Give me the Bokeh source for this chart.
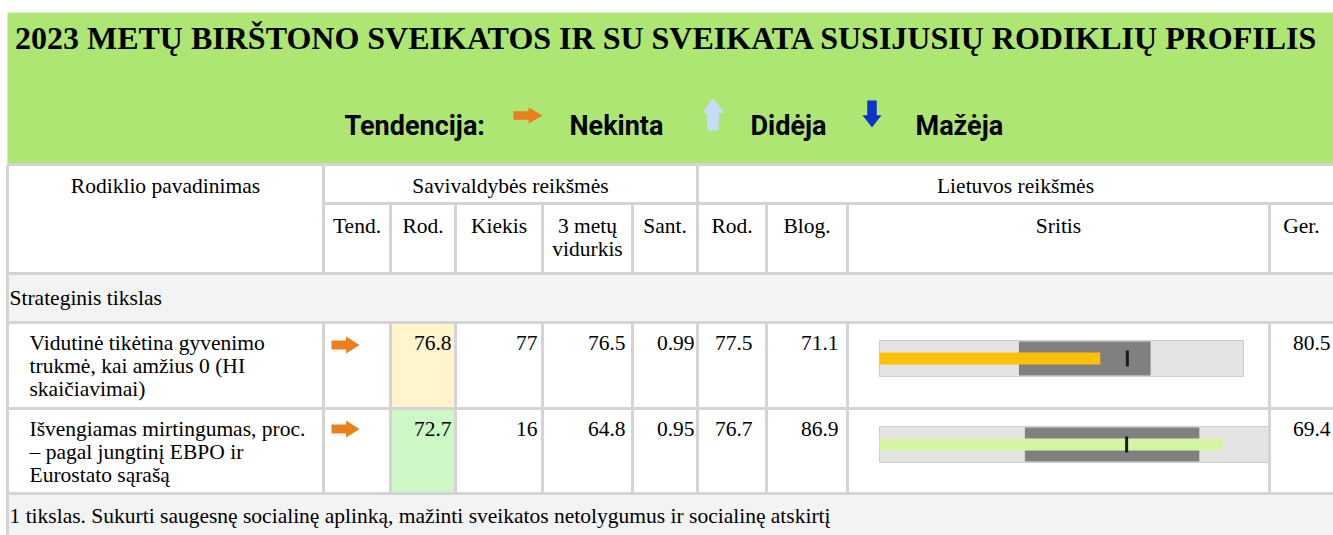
from bokeh.plotting import figure
from bokeh.models import Range1d
from bokeh.core.properties import value
from bokeh.embed import file_html
from bokeh.resources import INLINE

# ---------------- data ----------------
title_text = "2023 METŲ BIRŠTONO SVEIKATOS IR SU SVEIKATA SUSIJUSIŲ RODIKLIŲ PROFILIS"
legend_title = "Tendencija:"
legend_labels = ["Nekinta", "Didėja", "Mažėja"]
group_headers = ["Rodiklio pavadinimas", "Savivaldybės reikšmės", "Lietuvos reikšmės"]
column_headers = ["Tend.", "Rod.", "Kiekis", "3 metų\nvidurkis", "Sant.", "Rod.", "Blog.", "Sritis", "Ger."]
section_labels = ["Strateginis tikslas",
                  "1 tikslas. Sukurti saugesnę socialinę aplinką, mažinti sveikatos netolygumus ir socialinę atskirtį"]
indicator_names = ["Vidutinė tikėtina gyvenimo\ntrukmė, kai amžius 0 (HI\nskaičiavimai)",
                   "Išvengiamas mirtingumas, proc.\n– pagal jungtinį EBPO ir\nEurostato sąrašą"]
trend = ["Nekinta", "Nekinta"]
mun_rate = [76.8, 72.7]
mun_count = [77, 16]
mun_avg3 = [76.5, 64.8]
mun_ratio = [0.99, 0.95]
lt_rate = [77.5, 76.7]
lt_worst = [71.1, 86.9]
lt_best = [80.5, 69.4]
band_low = [74.7, 80.9]
band_high = [78.1, 73.7]

# ---------------- styles / layout ----------------
GREEN = "#ade673"
GRID = "#d4d4d4"
SECTION_BG = "#f3f3f3"
CELL_BG = ["#fff4cc", "#cdf8c5"]
BAR_COLORS = ["#ffc000", "#d6f5a4"]
TREND_COLORS = {"Nekinta": "#ea7f1c", "Didėja": "#c6dcf8", "Mažėja": "#0d35c9"}
SERIF = value("Liberation Serif")
SANS = value("Roboto")

W, H = 1333, 535
OX, OY = 0, 0
cols = [7, 323, 390, 455, 542, 632, 697, 766, 847, 1269, 1333]
GREEN_Y = (12, 164)
HDR1 = (164, 203)
HDR2 = (203, 273)
SEC = (273, 322)
ROWS = [(322, 408), (408, 493)]
FOOT = (493, 535)
value_right = [451, 537, 625, 694, 752, 838, 1330]
bullet_x0 = 879
bullet_span = [364, 424]

p = figure(width=W, height=H, x_range=Range1d(OX, OX + W), y_range=Range1d(OY + H, OY),
           output_backend="svg", toolbar_location=None, min_border=0)
p.axis.visible = False
p.grid.visible = False
p.outline_line_color = None
p.background_fill_color = "white"
p.border_fill_color = "white"

# backgrounds
p.quad(left=[cols[0]], right=[cols[-1]], top=[GREEN_Y[0]], bottom=[GREEN_Y[1]], fill_color=GREEN, line_color=None)
p.quad(left=[cols[0], cols[0]], right=[cols[-1], cols[-1]], top=[SEC[0], FOOT[0]], bottom=[SEC[1], FOOT[1]],
       fill_color=SECTION_BG, line_color=None)
p.quad(left=[cols[2]] * 2, right=[cols[3]] * 2, top=[r[0] for r in ROWS], bottom=[r[1] for r in ROWS],
       fill_color=CELL_BG, line_color=None)

# bullet charts through per-row linear scales
for i, (top, bot) in enumerate(ROWS):
    k = (lt_best[i] - lt_worst[i]) / bullet_span[i]
    name = f"b{i}"
    p.extra_x_ranges[name] = Range1d(start=lt_worst[i] - (bullet_x0 - OX) * k,
                                     end=lt_worst[i] + (OX + W - bullet_x0) * k)
    cy = top + 36
    p.quad(left=[lt_worst[i]], right=[lt_best[i]], top=[cy - 18], bottom=[cy + 18],
           fill_color="#e4e4e4", line_color="#cccccc", line_width=1, x_range_name=name)
    p.quad(left=[band_low[i]], right=[band_high[i]], top=[cy - 17], bottom=[cy + 17],
           fill_color="#808080", line_color=None, x_range_name=name)
    p.quad(left=[lt_worst[i]], right=[mun_rate[i]], top=[cy - 6], bottom=[cy + 6],
           fill_color=BAR_COLORS[i], line_color=None, x_range_name=name)
    p.segment(x0=[lt_rate[i]], x1=[lt_rate[i]], y0=[cy - 8], y1=[cy + 8],
              line_color="#1a1a1a", line_width=3, x_range_name=name)

# white Ger cells (clip bullet overflow)
p.quad(left=[cols[9]] * 2, right=[cols[10]] * 2, top=[r[0] for r in ROWS], bottom=[r[1] for r in ROWS],
       fill_color="white", line_color=None)

# grid lines
x0s, x1s, y0s, y1s = [], [], [], []
for y in [HDR1[0], SEC[0], SEC[1], ROWS[0][1], ROWS[1][1]]:
    x0s.append(cols[0]); x1s.append(cols[-1]); y0s.append(y); y1s.append(y)
x0s.append(cols[1]); x1s.append(cols[-1]); y0s.append(HDR2[0]); y1s.append(HDR2[0])
x0s.append(cols[0]); x1s.append(cols[0]); y0s.append(HDR1[0]); y1s.append(FOOT[1])
for x in [cols[1], cols[6]]:
    x0s.append(x); x1s.append(x); y0s.append(HDR1[0]); y1s.append(HDR1[1])
for x in cols[1:10]:
    x0s.append(x); x1s.append(x); y0s.append(HDR2[0]); y1s.append(HDR2[1])
    x0s.append(x); x1s.append(x); y0s.append(ROWS[0][0]); y1s.append(ROWS[1][1])
p.segment(x0=x0s, x1=x1s, y0=y0s, y1=y1s, line_color=GRID, line_width=3)

# title & legend
p.text(x=[666], y=[37], text=[title_text], text_font=SERIF, text_font_style="bold",
       text_font_size="32px", text_align="center", text_baseline="alphabetic", text_color="black")
p.text(x=[344, 569, 750, 915], y=[125] * 4, text=[legend_title] + legend_labels, text_font=SANS,
       text_font_style="bold", text_font_size="27px", text_align="left", text_baseline="alphabetic",
       text_color="black")


def arrow(kind, x0, y0, w, h):
    cx, cy = x0 + w / 2, y0 + h / 2
    if kind == "Nekinta":
        s = 0.27 * h
        xs = [x0, x0 + 0.52 * w, x0 + 0.52 * w, x0 + w, x0 + 0.52 * w, x0 + 0.52 * w, x0]
        ys = [cy - s, cy - s, y0, cy, y0 + h, cy + s, cy + s]
    elif kind == "Didėja":
        s = 0.25 * w
        xs = [cx - s, cx - s, x0, cx, x0 + w, cx + s, cx + s]
        ys = [y0 + h, y0 + 0.45 * h, y0 + 0.45 * h, y0, y0 + 0.45 * h, y0 + 0.45 * h, y0 + h]
    else:
        s = 0.25 * w
        xs = [cx - s, cx - s, x0, cx, x0 + w, cx + s, cx + s]
        ys = [y0, y0 + 0.55 * h, y0 + 0.55 * h, y0 + h, y0 + 0.55 * h, y0 + 0.55 * h, y0]
    return xs, ys


legend_boxes = [(513, 107, 29, 16), (701, 98, 23, 32), (862, 100, 19, 27)]
axs, ays, acs = [], [], []
for lab, box in zip(legend_labels, legend_boxes):
    xs, ys = arrow(lab, *box)
    axs.append(xs); ays.append(ys); acs.append(TREND_COLORS[lab])
for i, (top, bot) in enumerate(ROWS):
    xs, ys = arrow(trend[i], 331, top + 14 - (2 if i else 0), 28, 17)
    axs.append(xs); ays.append(ys); acs.append(TREND_COLORS[trend[i]])
p.patches(xs=axs, ys=ays, fill_color=acs, line_color=None)

# table headers
TXT = dict(text_font=SERIF, text_font_size="21.5px", text_color="black", text_baseline="alphabetic")
p.text(x=[(cols[0] + cols[1]) / 2, (cols[1] + cols[6]) / 2, (cols[6] + cols[10]) / 2], y=[185] * 3,
       text=group_headers, text_align="center", **TXT)
hx, hy, ht = [], [], []
for j, lab in enumerate(column_headers):
    for li, line in enumerate(lab.split("\n")):
        hx.append((cols[j + 1] + cols[j + 2]) / 2); hy.append(225 + 23 * li); ht.append(line)
p.text(x=hx, y=hy, text=ht, text_align="center", **TXT)

# section rows
p.text(x=[9, 9], y=[297, 515], text=section_labels, text_align="left", **TXT)

# indicator rows
nx, ny, nt = [], [], []
vx, vy, vt = [], [], []
for i, (top, bot) in enumerate(ROWS):
    base = top + 20
    for li, line in enumerate(indicator_names[i].split("\n")):
        nx.append(29); ny.append(base + 23 * li); nt.append(line)
    vals = [f"{mun_rate[i]:.1f}", f"{mun_count[i]}", f"{mun_avg3[i]:.1f}", f"{mun_ratio[i]:.2f}",
            f"{lt_rate[i]:.1f}", f"{lt_worst[i]:.1f}", f"{lt_best[i]:.1f}"]
    for xr, v in zip(value_right, vals):
        vx.append(xr); vy.append(base); vt.append(v)
p.text(x=nx, y=ny, text=nt, text_align="left", **TXT)
p.text(x=vx, y=vy, text=vt, text_align="right", **TXT)

open("out.html", "w").write(file_html(p, INLINE))
